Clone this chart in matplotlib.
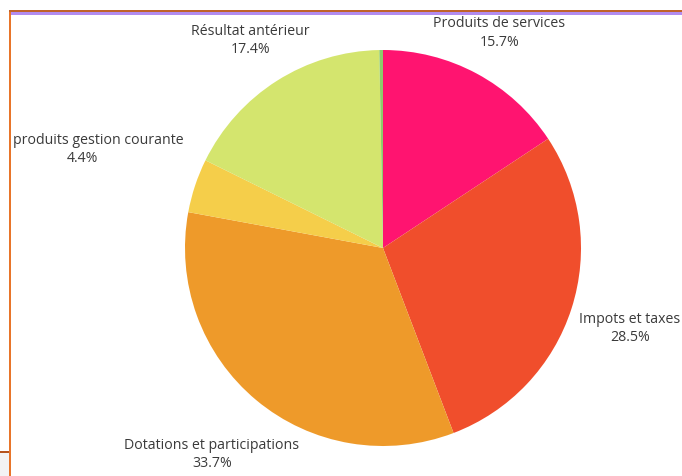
import numpy as np
import matplotlib.pyplot as plt
from matplotlib.patches import Rectangle

plt.rcParams['font.family'] = ['Open Sans', 'DejaVu Sans']

# data, clockwise from 12 o'clock
labels = ['Produits de services', 'Impots et taxes', 'Dotations et participations',
          'produits gestion courante', 'Résultat antérieur', '']
values = [15.7, 28.5, 33.7, 4.4, 17.4, 0.3]
colors = ['#FF1470', '#F04E2C', '#EE9A2A', '#F5CE4A', '#D4E56E', '#8DCB6A']

W, H = 682, 477
fig = plt.figure(figsize=(W / 100, H / 100), dpi=100)
fig.patch.set_facecolor('white')
ax = fig.add_axes([0, 0, 1, 1])

cx, cy, R = 383, H - 249, 198
wedges, _ = ax.pie(values, colors=colors, startangle=90, counterclock=False,
                   center=(cx, cy), radius=R, frame=True,
                   wedgeprops=dict(linewidth=0))
ax.set_xlim(0, W)
ax.set_ylim(0, H)
ax.set_aspect('equal')
ax.axis('off')

# label distance from centre (in radii)
label_dist = [1.24, 1.31, 1.35, 1.6, 1.25]
txt = dict(fontsize=10.2, color='#3a3a3a', va='center')
for w, lab, v, d in zip(wedges, labels, values, label_dist):
    a = np.deg2rad((w.theta1 + w.theta2) / 2)
    x = cx + d * R * np.cos(a)
    y = cy + d * R * np.sin(a)
    pct = f'{v:.1f}%'
    if x - 100 < 12:
        ax.text(13, y + 9, lab, ha='left', **txt)
    else:
        ax.text(x, y + 9, lab, ha='center', **txt)
    ax.text(x, y - 9.5, pct, ha='center', **txt)

# frame lines
ax.add_patch(Rectangle((9, 0), 2, H - 11, color='#E8752A', lw=0))
ax.add_patch(Rectangle((9, H - 13), W, 2, color='#C0622A', lw=0))
ax.add_patch(Rectangle((11, H - 16), W, 3, color='#B28CF0', lw=0))
ax.add_patch(Rectangle((0, 0), 9, H - 454, color='#F3F3F3', lw=0))
ax.add_patch(Rectangle((0, H - 454), 9, 2, color='#B5541E', lw=0))

fig.savefig('out.png', dpi=100)
